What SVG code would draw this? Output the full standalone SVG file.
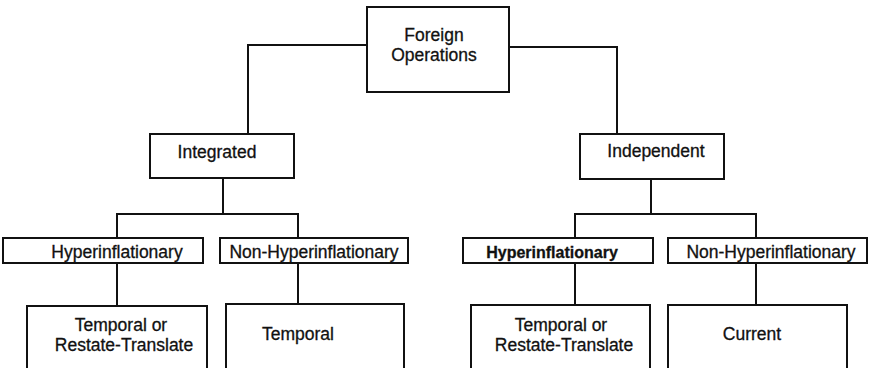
<svg xmlns="http://www.w3.org/2000/svg" width="869" height="368" viewBox="0 0 869 368">
<style>
.box{fill:#fff;stroke:#111;stroke-width:2}
.ln{fill:none;stroke:#111;stroke-width:2}
text{font-family:"Liberation Sans",Arial,Helvetica,sans-serif;font-size:17.5px;fill:#111;stroke:#111;stroke-width:0.3;text-anchor:middle}
</style>
<rect width="869" height="368" fill="#fff"/>
<g id="connectors">
<path class="ln" d="M367 45H248V134"/>
<path class="ln" d="M509 47H617V134"/>
<path class="ln" d="M223 178V214M117 238V214H298V238"/>
<path class="ln" d="M651 179V214M575 238V214H756V238"/>
<path class="ln" d="M117 263V306M298 263V304M575 263V305M756 263V305"/>
</g>
<g id="foreign"><rect class="box" x="367" y="7" width="142" height="85"/><text x="434" y="41">Foreign</text><text x="434" y="61">Operations</text></g>
<g id="integrated"><rect class="box" x="150" y="134" width="144" height="44"/><text x="217" y="158">Integrated</text></g>
<g id="independent"><rect class="box" x="580" y="134" width="144" height="45"/><text x="656" y="157">Independent</text></g>
<g id="int-hyper"><rect class="box" x="3" y="238" width="200" height="25"/><text x="117" y="258">Hyperinflationary</text></g>
<g id="int-nonhyper"><rect class="box" x="220" y="238" width="188" height="25"/><text x="314" y="258">Non-Hyperinflationary</text></g>
<g id="ind-hyper"><rect class="box" x="463" y="238" width="190" height="25"/><text x="552" y="258" font-weight="bold" style="font-size:16px">Hyperinflationary</text></g>
<g id="ind-nonhyper"><rect class="box" x="668" y="238" width="199" height="25"/><text x="771" y="258">Non-Hyperinflationary</text></g>
<g id="int-hyper-method"><rect class="box" x="27" y="306" width="180" height="70"/><text x="121" y="331">Temporal or</text><text x="124" y="351">Restate-Translate</text></g>
<g id="int-nonhyper-method"><rect class="box" x="226" y="304" width="178" height="72"/><text x="298" y="340">Temporal</text></g>
<g id="ind-hyper-method"><rect class="box" x="471" y="305" width="179" height="71"/><text x="561" y="331">Temporal or</text><text x="564" y="351">Restate-Translate</text></g>
<g id="ind-nonhyper-method"><rect class="box" x="668" y="305" width="179" height="71"/><text x="752" y="340">Current</text></g>
</svg>
